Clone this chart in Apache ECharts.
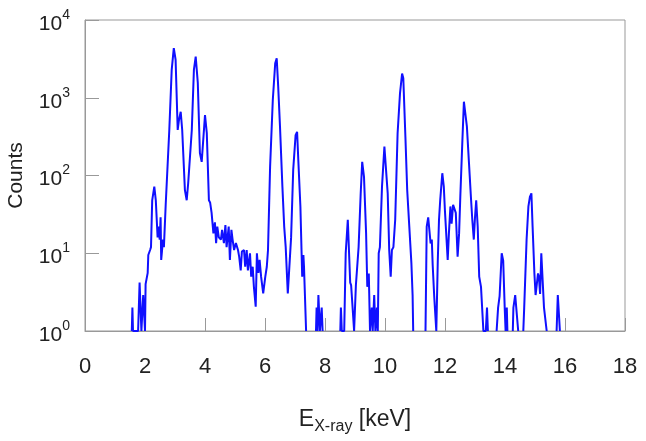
<!DOCTYPE html>
<html>
<head>
<meta charset="utf-8">
<title>X-ray spectrum</title>
<script src="https://cdn.jsdelivr.net/npm/echarts@6/dist/echarts.min.js"></script>
<style>
  html, body { margin: 0; padding: 0; background: #fff; }
  #chart { width: 646px; height: 441px; }
</style>
</head>
<body>
<div id="chart"></div>
<script>
// energy [keV] and counts; null = empty bins (gap in the line)
var energy = [
  1.56, 1.58, 1.60, 1.77, 1.82, 1.88, 1.94, 2.00, 2.02, 2.09, 2.11, 2.17, 2.20, 2.24, 2.31, 2.36,
  2.42, 2.45, 2.49, 2.52, 2.54, 2.60, 2.63, 2.69, 2.72, 2.81, 2.89, 2.96, 3.02, 3.09, 3.13, 3.19,
  3.24, 3.33, 3.39, 3.44, 3.56, 3.63, 3.69, 3.76, 3.83, 3.89, 3.92, 4.00, 4.06, 4.13, 4.17, 4.22,
  4.28, 4.33, 4.37, 4.41, 4.46, 4.53, 4.57, 4.63, 4.68, 4.72, 4.79, 4.83, 4.88, 4.92, 4.97, 5.03,
  5.10, 5.14, 5.19, 5.23, 5.30, 5.34, 5.39, 5.43, 5.50, 5.54, 5.59, 5.63, 5.69, 5.73, 5.78, 5.82,
  5.87, 5.94, 6.01, 6.06, 6.10, 6.17, 6.26, 6.34, 6.39, 6.44, 6.50, 6.58, 6.64, 6.69, 6.76, 6.80,
  6.87, 6.94, 7.02, 7.07, 7.11, 7.18, 7.22, 7.24, 7.28, 7.30, 7.37, 7.50,
  7.70, 7.72, 7.75, 7.78, 7.83, 7.89, 7.92, 8.20,
  8.51, 8.53, 8.56, 8.64, 8.69, 8.76, 8.80, 8.84, 8.87, 8.92, 8.97, 9.03, 9.07, 9.12, 9.19, 9.24,
  9.30, 9.37, 9.41, 9.46, 9.50, 9.56, 9.59, 9.64, 9.68, 9.73, 9.76, 9.79, 9.83, 9.90, 9.98, 10.03,
  10.09, 10.14, 10.19, 10.23, 10.28, 10.34, 10.42, 10.50, 10.57, 10.61, 10.68, 10.74, 10.81, 10.88,
  10.92, 10.94, 11.10,
  11.35, 11.39, 11.44, 11.48, 11.52, 11.56, 11.59, 11.64, 11.71, 11.76, 11.80, 11.84, 11.91, 11.96,
  12.00, 12.04, 12.09, 12.13, 12.18, 12.22, 12.27, 12.30, 12.36, 12.42, 12.47, 12.51, 12.58, 12.63,
  12.68, 12.73, 12.80, 12.87, 12.91, 12.96, 13.00, 13.04, 13.09, 13.14, 13.20, 13.28, 13.36, 13.40,
  13.43, 13.55,
  13.72, 13.77, 13.82, 13.89, 13.92, 13.94, 13.99, 14.02, 14.06, 14.08, 14.15,
  14.26, 14.28, 14.34, 14.40, 14.44, 14.50,
  14.61, 14.64, 14.68, 14.72, 14.78, 14.83, 14.88, 14.92, 14.98, 15.02, 15.06, 15.10, 15.13, 15.17,
  15.21, 15.25, 15.30, 15.34, 15.39, 15.55,
  15.72, 15.76, 15.80, 15.83
];
var counts = [
  1, 2, 1, 1, 4.2, 1, 2.9, 1, 4, 5.6, 9.5, 11, 12, 48, 72, 48,
  16, 22, 15, 29, 8.2, 15, 12, 42, 44, 385, 2280, 4340, 3080, 385, 510, 660,
  385, 65, 48, 80, 385, 2280, 3380, 1550, 195, 150, 158, 600, 350, 48, 45, 33,
  18, 25, 13.5, 22, 16, 15, 20, 13.5, 23, 12, 22, 8.2, 20, 15, 11, 13.5,
  11, 9, 6, 10.5, 11, 6.7, 11, 6, 10, 5, 6.7, 3.7, 2.05, 10, 5.6, 8.2,
  5, 3.05, 5, 6.7, 11, 130, 935, 2770, 3220, 1390, 425, 72, 22, 12, 3.05, 3,
  16, 118, 330, 365, 158, 40, 10, 5, 9.5, 6.7, 1, null,
  1, 2, 1, 2.9, 1, 2, 1, null,
  1, 2, 1, 1, 10, 27, 27, 4.2, 3.9, 2, 1, 3.9, 4, 12, 59, 150,
  96, 18, 3.7, 5.5, 1, 2, 1, 2.9, 1, 2, 1, 10, 12, 72, 235, 246,
  59, 11, 5, 11, 12, 27, 350, 1140, 2050, 1780, 315, 65, 22, 7.4,
  2.9, 1, null,
  1, 22, 29, 29, 13.4, 15, 7, 2.8, 1, 8.2, 27, 48, 107, 72,
  34, 33, 8.2, 18, 40, 24, 42, 44, 33, 9, 18, 53, 285, 890,
  935, 425, 143, 48, 27, 15, 29, 48, 22, 5, 3.7, 1, 1, 2,
  1, null,
  1, 2, 2.8, 10, 10, 8, 2, 1, 2, 1, null,
  1, 2, 2.9, 2.9, 1, null,
  1, 2, 2, 15, 40, 53, 59, 22, 5.5, 2.9, 2.9, 5.5, 5, 3,
  10, 10, 2, 2, 1, null,
  1, 2.9, 2.9, 1
];
var xTicks = [0, 2, 4, 6, 8, 10, 12, 14, 16, 18];

var chart = echarts.init(document.getElementById("chart"));
var font = "Liberation Sans, Arial, sans-serif";
var frame = "#999";

var points = energy.map(function (e, i) {
  return [e, counts[i] === null ? "-" : counts[i]];
});

chart.setOption({
  animation: false,
  grid: {
    left: 85,
    right: 21,
    top: 20,
    bottom: 110,
    outerBoundsMode: "none",
    containLabel: false,
    show: true,
    borderColor: frame,
    borderWidth: 1
  },
  xAxis: {
    type: "value",
    min: xTicks[0],
    max: xTicks[xTicks.length - 1],
    interval: 2,
    name: "{n|E}{s|X-ray}{n| [keV]}",
    nameLocation: "middle",
    nameGap: 74,
    nameTextStyle: {
      rich: {
        n: { fontFamily: font, fontSize: 23, color: "#222" },
        s: { fontFamily: font, fontSize: 16, color: "#222", padding: [14, 0, 0, 0] }
      }
    },
    axisLine: { show: true, lineStyle: { color: frame } },
    axisTick: { show: true, inside: true, length: 13, lineStyle: { color: frame } },
    axisLabel: { fontFamily: font, fontSize: 22, color: "#222", margin: 25 },
    splitLine: { show: false }
  },
  yAxis: {
    type: "log",
    logBase: 10,
    min: 1,
    max: 10000,
    name: "Counts",
    nameLocation: "middle",
    nameGap: 58,
    nameTextStyle: { fontFamily: font, fontSize: 21, color: "#222" },
    axisLine: { show: true, lineStyle: { color: frame } },
    axisTick: { show: true, inside: true, length: 14, lineStyle: { color: frame } },
    minorTick: { show: false },
    axisLabel: {
      margin: 15,
      formatter: function (v) {
        return "{b|10}{s|" + Math.round(Math.log10(v)) + "}";
      },
      rich: {
        b: { fontFamily: font, fontSize: 21, color: "#222", padding: [8, 0, 0, 0] },
        s: { fontFamily: font, fontSize: 14, color: "#222", padding: [0, 0, 10, 0] }
      }
    },
    splitLine: { show: false }
  },
  series: [
    {
      type: "line",
      data: points,
      showSymbol: false,
      connectNulls: false,
      clip: true,
      lineStyle: { color: "#1010ff", width: 2 }
    }
  ]
});
</script>
</body>
</html>
